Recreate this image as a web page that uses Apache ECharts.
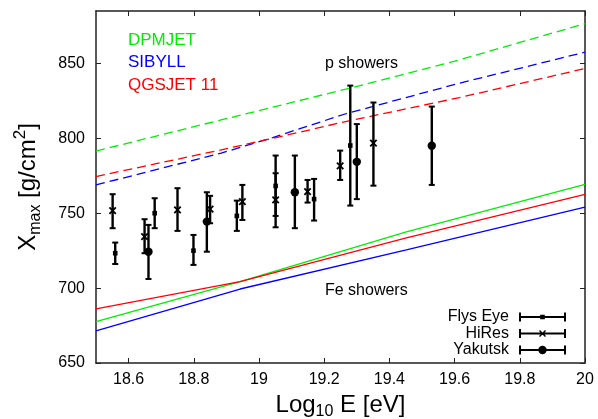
<!DOCTYPE html>
<html>
<head>
<meta charset="utf-8">
<script src="https://cdn.jsdelivr.net/npm/echarts@6/dist/echarts.min.js"></script>
<style>
  html, body { margin: 0; padding: 0; background: #fff; }
  #chart { width: 598px; height: 419px; }
</style>
</head>
<body>
<div id="chart"></div>
<script>
// Shower maximum depth vs. primary energy: model predictions and measurements

// Tick positions
const xTicks = [18.6, 18.8, 19, 19.2, 19.4, 19.6, 19.8, 20];
const yTicks = [650, 700, 750, 800, 850];

// Model curves, proton showers (dashed)
const pDpmjetE = [18.5, 18.884, 19.266, 19.615, 20];
const pDpmjetX = [791.5, 812.3, 832.8, 852.4, 876.5];
const pSibyllE = [18.5, 18.884, 19.042, 19.266, 19.615, 20];
const pSibyllX = [768.9, 790.1, 800.5, 816.4, 836.8, 857.5];
const pQgsjetE = [18.5, 18.884, 19.042, 19.266, 19.615, 20];
const pQgsjetX = [774.5, 792.3, 800.0, 811.2, 827.2, 846.6];

// Model curves, iron showers (solid)
const feDpmjetE = [18.5, 18.942, 19.452, 20];
const feDpmjetX = [677.6, 704.3, 737.5, 769.2];
const feSibyllE = [18.5, 18.942, 19.452, 20];
const feSibyllX = [671.4, 699.4, 725.5, 754.0];
const feQgsjetE = [18.5, 18.942, 19.452, 20];
const feQgsjetX = [686.1, 704.3, 733.5, 762.5];

// Fly's Eye measurements
const flysE  = [18.559, 18.680, 18.799, 18.932, 19.051, 19.169, 19.280];
const flysX  = [723.3, 750.0, 725.0, 748.2, 768.2, 759.4, 795.2];
const flysLo = [716.1, 740.0, 715.5, 738.2, 748.2, 745.1, 755.1];
const flysHi = [730.4, 760.0, 735.5, 758.4, 788.5, 772.9, 835.2];

// HiRes measurements
const hiresE  = [18.551, 18.649, 18.750, 18.850, 18.949, 19.051, 19.149, 19.249, 19.351];
const hiresX  = [751.7, 734.4, 752.2, 752.7, 757.7, 758.9, 764.4, 781.6, 796.8];
const hiresLo = [740.0, 723.3, 738.2, 743.3, 745.5, 740.6, 757.1, 772.2, 768.4];
const hiresHi = [762.7, 746.0, 766.7, 761.6, 768.9, 776.7, 772.2, 791.8, 823.9];

// Yakutsk measurements
const yakE  = [18.661, 18.840, 19.110, 19.300, 19.530];
const yakX  = [724.3, 744.4, 764.0, 784.3, 795.0];
const yakLo = [706.1, 724.3, 740.0, 759.4, 768.9];
const yakHi = [742.2, 764.0, 788.5, 809.5, 821.2];

const FONT = '"Liberation Sans", Arial, Helvetica, sans-serif';
const GREEN = '#00ee00', BLUE = '#0000ff', RED = '#ff0000';

function modelLine(name, es, xs, color, dashed) {
  return {
    type: 'line', name: name, silent: true, symbol: 'none',
    data: es.map((e, i) => [e, xs[i]]),
    lineStyle: { color: color, width: 1.3, type: dashed ? [9, 5] : 'solid' },
    z: 3
  };
}

function errorBars(name, es, xs, lo, hi, marker) {
  return {
    type: 'custom', name: name,
    itemStyle: { color: '#000' },
    data: es.map((e, i) => [e, xs[i], lo[i], hi[i]]),
    encode: { x: 0, y: [1, 2, 3] },
    z: 10,
    renderItem: function (params, api) {
      const e = api.value(0);
      const c = api.coord([e, api.value(1)]);
      const l = api.coord([e, api.value(2)]);
      const h = api.coord([e, api.value(3)]);
      const stroke = { stroke: '#000', lineWidth: 2.4 };
      const cap = 3;
      const kids = [
        { type: 'line', shape: { x1: l[0], y1: l[1], x2: h[0], y2: h[1] }, style: stroke },
        { type: 'line', shape: { x1: l[0] - cap, y1: l[1], x2: l[0] + cap, y2: l[1] }, style: { stroke: '#000', lineWidth: 2 } },
        { type: 'line', shape: { x1: h[0] - cap, y1: h[1], x2: h[0] + cap, y2: h[1] }, style: { stroke: '#000', lineWidth: 2 } }
      ];
      if (marker === 'circle') {
        kids.push({ type: 'circle', shape: { cx: c[0], cy: c[1], r: 4.2 }, style: { fill: '#000' } });
      } else if (marker === 'cross') {
        const s = 3.2;
        kids.push({ type: 'line', shape: { x1: c[0] - s, y1: c[1] - s, x2: c[0] + s, y2: c[1] + s }, style: { stroke: '#000', lineWidth: 1.8 } });
        kids.push({ type: 'line', shape: { x1: c[0] - s, y1: c[1] + s, x2: c[0] + s, y2: c[1] - s }, style: { stroke: '#000', lineWidth: 1.8 } });
      } else {
        kids.push({ type: 'rect', shape: { x: c[0] - 2.3, y: c[1] - 2.3, width: 4.6, height: 4.6 }, style: { fill: '#000' } });
      }
      return { type: 'group', children: kids };
    }
  };
}

// Legend keys: horizontal error bar with caps and the series marker
const keyBar = 'M0,0h2v9h-2z M45,0h2v9h-2z M0,3.5h47v2h-47z';
const iconFlys = 'path://' + keyBar + ' M21.2,2.2h4.6v4.6h-4.6z';
const iconHires = 'path://' + keyBar + ' M20,2 L21,1 L27,7 L26,8 Z M26,1 L27,2 L21,8 L20,7 Z';
const iconYak = 'path://' + keyBar + ' M19.3,4.5 a4.2,4.2 0 1,1 8.4,0 a4.2,4.2 0 1,1 -8.4,0 Z';

function axisBase(extra) {
  return Object.assign({
    type: 'value',
    axisLine: { show: true, onZero: false, lineStyle: { color: '#222', width: 1.5 } },
    splitLine: { show: false }
  }, extra);
}

const chart = echarts.init(document.getElementById('chart'), null, { renderer: 'canvas' });

chart.setOption({
  animation: false,
  backgroundColor: '#fff',
  textStyle: { fontFamily: FONT },
  grid: { left: 96, right: 13, top: 11, bottom: 56, containLabel: false, outerBoundsMode: 'none' },
  xAxis: [
    axisBase({
      position: 'bottom', min: 18.5, max: 20,
      axisTick: { show: true, inside: true, length: 5, customValues: xTicks, lineStyle: { color: '#222', width: 1 } },
      axisLabel: { show: true, customValues: xTicks, color: '#000', fontSize: 16, fontFamily: FONT, margin: 9,
                   formatter: v => String(+v.toFixed(1)) },
      name: '{a|Log}{s|10}{a| E [eV]}',
      nameLocation: 'middle', nameGap: 23,
      nameTextStyle: {
        rich: {
          a: { fontSize: 24, fontFamily: FONT, color: '#000', lineHeight: 30 },
          s: { fontSize: 16, fontFamily: FONT, color: '#000', lineHeight: 16, verticalAlign: 'bottom' }
        }
      }
    }),
    axisBase({
      position: 'top', min: 18.5, max: 20,
      axisTick: { show: true, inside: true, length: 5, customValues: xTicks, lineStyle: { color: '#222', width: 1 } },
      axisLabel: { show: false }
    })
  ],
  yAxis: [
    axisBase({
      position: 'left', min: 650, max: 885,
      axisTick: { show: true, inside: true, length: 5, customValues: yTicks, lineStyle: { color: '#222', width: 1 } },
      axisLabel: { show: true, customValues: yTicks, color: '#000', fontSize: 16, fontFamily: FONT, margin: 11 },
      name: '{a|X}{s|max}{a| [g/cm}{p|2}{a|]}',
      nameLocation: 'middle', nameGap: 52, nameRotate: 90,
      nameTextStyle: {
        rich: {
          a: { fontSize: 24, fontFamily: FONT, color: '#000', lineHeight: 32 },
          s: { fontSize: 16, fontFamily: FONT, color: '#000', lineHeight: 15, verticalAlign: 'bottom' },
          p: { fontSize: 17, fontFamily: FONT, color: '#000', lineHeight: 16, verticalAlign: 'top' }
        }
      }
    }),
    axisBase({
      position: 'right', min: 650, max: 885,
      axisTick: { show: true, inside: true, length: 5, customValues: yTicks, lineStyle: { color: '#222', width: 1 } },
      axisLabel: { show: false }
    })
  ],
  legend: {
    orient: 'vertical', right: 27, top: 304, align: 'right',
    itemWidth: 47, itemHeight: 9, itemGap: 0.5,
    selectedMode: false,
    textStyle: { fontSize: 16, fontFamily: FONT, color: '#000', lineHeight: 16, padding: [0, 5, 0, 0] },
    data: [
      { name: 'Flys Eye', icon: iconFlys },
      { name: 'HiRes', icon: iconHires },
      { name: 'Yakutsk', icon: iconYak }
    ]
  },
  graphic: [
    { type: 'text', left: 128, top: 32, style: { text: 'DPMJET', fill: GREEN, font: '17px ' + FONT } },
    { type: 'text', left: 128, top: 54, style: { text: 'SIBYLL', fill: BLUE, font: '17px ' + FONT } },
    { type: 'text', left: 128, top: 77, style: { text: 'QGSJET 11', fill: RED, font: '17px ' + FONT } },
    { type: 'text', left: 325, top: 56, style: { text: 'p showers', fill: '#000', font: '16px ' + FONT } },
    { type: 'text', left: 325, top: 283, style: { text: 'Fe showers', fill: '#000', font: '16px ' + FONT } }
  ],
  series: [
    modelLine('DPMJET p', pDpmjetE, pDpmjetX, GREEN, true),
    modelLine('SIBYLL p', pSibyllE, pSibyllX, BLUE, true),
    modelLine('QGSJET 11 p', pQgsjetE, pQgsjetX, RED, true),
    modelLine('DPMJET Fe', feDpmjetE, feDpmjetX, GREEN, false),
    modelLine('SIBYLL Fe', feSibyllE, feSibyllX, BLUE, false),
    modelLine('QGSJET 11 Fe', feQgsjetE, feQgsjetX, RED, false),
    errorBars('Flys Eye', flysE, flysX, flysLo, flysHi, 'dot'),
    errorBars('HiRes', hiresE, hiresX, hiresLo, hiresHi, 'cross'),
    errorBars('Yakutsk', yakE, yakX, yakLo, yakHi, 'circle')
  ]
});
</script>
</body>
</html>
